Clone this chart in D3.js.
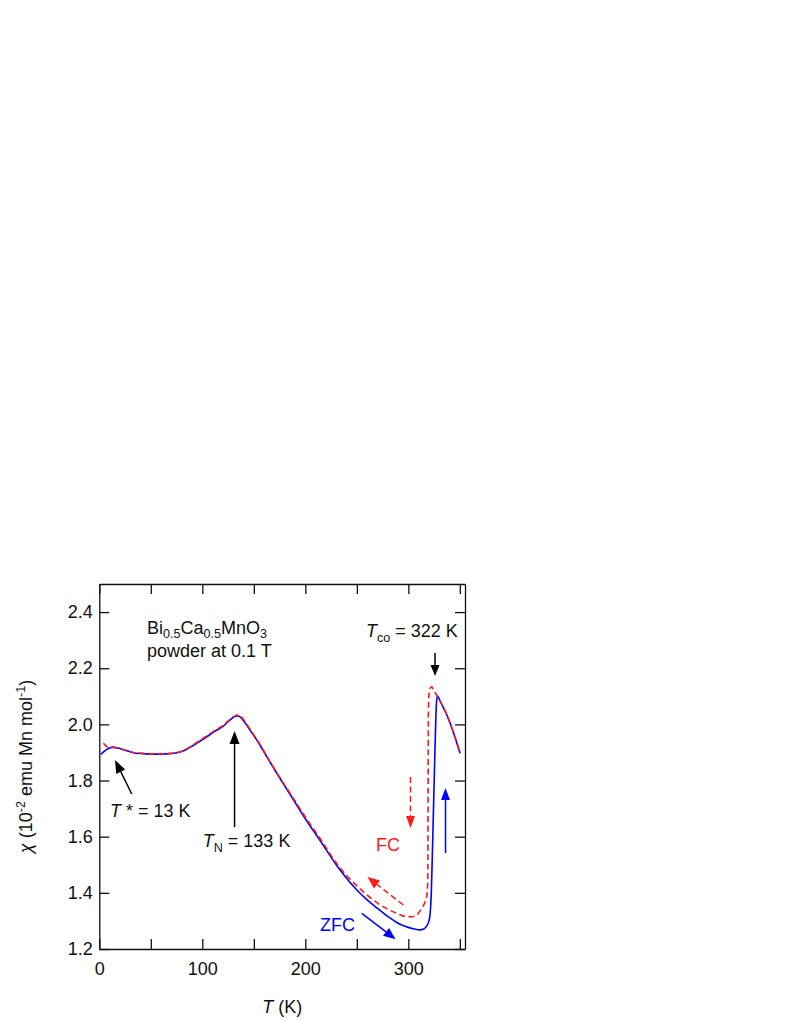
<!DOCTYPE html>
<html>
<head>
<meta charset="utf-8">
<script src="https://cdn.jsdelivr.net/npm/d3@7/dist/d3.min.js"></script>
<style>
  html, body { margin: 0; padding: 0; background: #fff; }
  svg text { font-family: "Liberation Sans", Arial, Helvetica, sans-serif; }
</style>
</head>
<body>
<svg id="chart" width="789" height="1021"></svg>
<script>
// ---------- data ----------
const tZFC = [1.5, 5, 9, 13.5, 18, 25, 33, 42, 55, 65, 74, 80, 88, 96, 104, 112, 120, 127, 131, 134, 137, 141, 147, 155, 165, 175, 185, 200, 215, 230, 240, 250, 260, 270, 280, 290, 300, 306, 311, 315, 318, 320, 321.2, 322.2, 323.2, 324.3, 325.3, 326.3, 327.2, 328.2, 331, 334, 337, 340.5, 344, 347, 350.2];
const chiZFC = [1.893, 1.905, 1.914, 1.919, 1.916, 1.908, 1.899, 1.896, 1.894, 1.895, 1.898, 1.903, 1.918, 1.936, 1.955, 1.975, 1.993, 2.016, 2.027, 2.030, 2.026, 2.008, 1.976, 1.932, 1.870, 1.810, 1.752, 1.664, 1.583, 1.500, 1.452, 1.410, 1.375, 1.345, 1.316, 1.292, 1.277, 1.271, 1.268, 1.271, 1.283, 1.300, 1.327, 1.39, 1.52, 1.683, 1.83, 1.97, 2.07, 2.101, 2.082, 2.060, 2.037, 2.005, 1.968, 1.935, 1.897];

const tFC = [4, 7, 10, 14, 18, 25, 33, 42, 55, 65, 74, 80, 88, 96, 104, 112, 120, 127, 131, 134, 137, 141, 147, 155, 165, 175, 185, 200, 215, 230, 240, 250, 260, 270, 280, 290, 297, 304, 309, 313, 316, 317.9, 318.9, 319.2, 319.5, 320.0, 320.8, 322, 322.8, 324, 326, 328.2, 331, 334, 337, 340.5, 344, 347, 350.2];
const chiFC = [1.933, 1.922, 1.916, 1.918, 1.915, 1.908, 1.900, 1.897, 1.895, 1.896, 1.899, 1.904, 1.920, 1.939, 1.958, 1.978, 1.996, 2.018, 2.029, 2.033, 2.029, 2.012, 1.979, 1.934, 1.872, 1.812, 1.756, 1.670, 1.590, 1.507, 1.462, 1.425, 1.392, 1.364, 1.342, 1.325, 1.316, 1.315, 1.324, 1.345, 1.366, 1.390, 1.446, 1.75, 2.05, 2.105, 2.124, 2.133, 2.134, 2.126, 2.113, 2.099, 2.082, 2.060, 2.037, 2.005, 1.968, 1.935, 1.897];

const xTicks = [0, 50, 100, 150, 200, 250, 300, 350];
const xTickLabels = ["0", "", "100", "", "200", "", "300", ""];
const yTicks = [1.2, 1.4, 1.6, 1.8, 2.0, 2.2, 2.4];
const yTickLabels = ["1.2", "1.4", "1.6", "1.8", "2.0", "2.2", "2.4"];
const xDomain = [0, 355];
const yDomain = [1.2, 2.5];

// annotation arrows in data units [T1, chi1, T2(tip), chi2(tip)]
const arrowTstar = [31.5, 1.752, 15.2, 1.873];
const arrowTN = [131.3, 1.634, 131.3, 1.976];
const arrowTco = [325.9, 2.254, 325.9, 2.172];
const arrowFCdown = [302.1, 1.813, 302.1, 1.631];
const arrowFCdiag = [295.1, 1.357, 260.4, 1.456];
const arrowZFCup = [336.1, 1.542, 336.1, 1.773];
const arrowZFCdiag = [254.8, 1.327, 287.6, 1.235];

// label anchors in data units [T, chi]
const posSample = [46.3, 2.322];
const posField = [46.3, 2.240];
const posTco = [258.9, 2.311];
const posTstar = [10.4, 1.670];
const posTN = [100.4, 1.563];
const posFC = [268.6, 1.549];
const posZFC = [214.3, 1.264];

// ---------- drawing ----------
(function () {
const svg = d3.select("#chart");
const mLeft = 99.3, mRight = 465, mTop = 584, mBottom = 949;
const x = d3.scaleLinear().domain(xDomain).range([mLeft, mRight]);
const y = d3.scaleLinear().domain(yDomain).range([mBottom, mTop]);

const BLUE = "#0000ff", RED = "#ff1a1a", BLACK = "#000";
const FS = 18;

function styleAxis(g) {
  g.selectAll("path.domain").attr("stroke", "#111").attr("stroke-width", 1.3);
  g.selectAll(".tick line").attr("stroke", "#111").attr("stroke-width", 1.3);
  g.selectAll(".tick text").attr("fill", "#111").attr("font-size", FS)
    .attr("font-family", '"Liberation Sans", Arial, sans-serif');
}
svg.append("g").attr("transform", `translate(0,${mBottom})`)
  .call(d3.axisBottom(x).tickValues(xTicks).tickSize(-10).tickSizeOuter(0).tickPadding(13)
    .tickFormat((d, i) => xTickLabels[i]))
  .call(styleAxis);
svg.append("g").attr("transform", `translate(0,${mTop})`)
  .call(d3.axisTop(x).tickValues(xTicks).tickSize(-10).tickSizeOuter(0).tickFormat(""))
  .call(styleAxis);
svg.append("g").attr("transform", `translate(${mLeft},0)`)
  .call(d3.axisLeft(y).tickValues(yTicks).tickSize(-10).tickSizeOuter(0).tickPadding(6.5)
    .tickFormat((d, i) => yTickLabels[i]))
  .call(styleAxis);
svg.append("g").attr("transform", `translate(${mRight},0)`)
  .call(d3.axisRight(y).tickValues(yTicks).tickSize(-10).tickSizeOuter(0).tickFormat(""))
  .call(styleAxis);

const line = d3.line().x(d => x(d[0])).y(d => y(d[1])).curve(d3.curveMonotoneX);
svg.append("path").datum(tZFC.map((t, i) => [t, chiZFC[i]]))
  .attr("d", line).attr("fill", "none").attr("stroke", BLUE).attr("stroke-width", 1.6);
svg.append("path").datum(tFC.map((t, i) => [t, chiFC[i]]))
  .attr("d", line).attr("fill", "none").attr("stroke", RED).attr("stroke-width", 1.6)
  .attr("stroke-dasharray", "6,3.5");

function arrow(a, color, dashed, headLen = 12, headHalf = 4.5, width = 1.5) {
  const x1 = x(a[0]), y1 = y(a[1]), x2 = x(a[2]), y2 = y(a[3]);
  const ang = Math.atan2(y2 - y1, x2 - x1);
  const bx = x2 - headLen * Math.cos(ang), by = y2 - headLen * Math.sin(ang);
  svg.append("line").attr("x1", x1).attr("y1", y1).attr("x2", bx).attr("y2", by)
    .attr("stroke", color).attr("stroke-width", width)
    .attr("stroke-dasharray", dashed ? "6,3.5" : null);
  const px = -Math.sin(ang) * headHalf, py = Math.cos(ang) * headHalf;
  svg.append("path")
    .attr("d", `M${x2},${y2}L${bx + px},${by + py}L${bx - px},${by - py}Z`)
    .attr("fill", color);
}
arrow(arrowTstar, BLACK, false, 13, 5);
arrow(arrowTN, BLACK, false, 13, 5);
arrow(arrowTco, BLACK, false, 11, 4.5);
arrow(arrowFCdown, RED, true, 12, 4.5);
arrow(arrowFCdiag, RED, true, 12, 5);
arrow(arrowZFCup, BLUE, false, 12, 4.5);
arrow(arrowZFCdiag, BLUE, false, 12, 5);

function rich(px, py, parts, color = "#111", anchor = "start", size = FS, g = svg) {
  const t = g.append("text").attr("x", px).attr("y", py).attr("font-size", size)
    .attr("fill", color).attr("text-anchor", anchor);
  let shift = 0;
  parts.forEach(([s, st]) => {
    const sp = t.append("tspan").text(s);
    let target = 0;
    if (st === "sub") { target = 4.5; sp.attr("font-size", size * 0.7); }
    else if (st === "sup") { target = -7.5; sp.attr("font-size", size * 0.7); }
    if (st === "i") sp.attr("font-style", "italic");
    sp.attr("dy", target - shift);
    shift = target;
  });
  return t;
}

rich(x(posSample[0]), y(posSample[1]), [["Bi"], ["0.5", "sub"], ["Ca"], ["0.5", "sub"], ["MnO"], ["3", "sub"]]);
rich(x(posField[0]), y(posField[1]), [["powder at 0.1 T"]]);
rich(x(posTco[0]), y(posTco[1]), [["T", "i"], ["co", "sub"], [" = 322 K"]]);
rich(x(posTstar[0]), y(posTstar[1]), [["T", "i"], [" * = 13 K"]]);
rich(x(posTN[0]), y(posTN[1]), [["T", "i"], ["N", "sub"], [" = 133 K"]]);
rich(x(posFC[0]), y(posFC[1]), [["FC"]], RED);
rich(x(posZFC[0]), y(posZFC[1]), [["ZFC"]], BLUE);

rich((mLeft + mRight) / 2, 1013, [["T", "i"], [" (K)"]], "#111", "middle");
const yg = svg.append("g").attr("transform", `translate(32,${(mTop + mBottom) / 2}) rotate(-90)`);
rich(0, 0, [["χ", "i"], [" (10"], ["-2", "sup"], [" emu Mn mol"], ["-1", "sup"], [")"]], "#111", "middle", FS, yg);
})();
</script>
</body>
</html>
